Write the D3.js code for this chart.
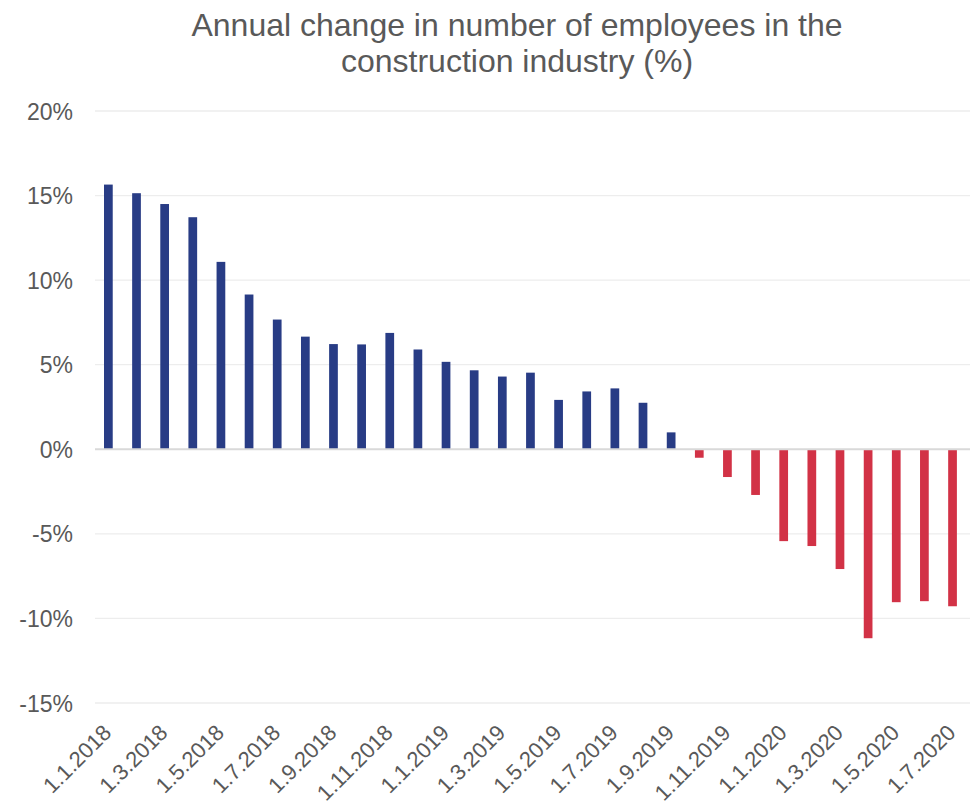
<!DOCTYPE html>
<html>
<head>
<meta charset="utf-8">
<script src="https://cdn.jsdelivr.net/npm/d3@7"></script>
<style>
  html, body { margin: 0; padding: 0; background: #fff; }
  svg { display: block; font-family: "Liberation Sans", Arial, sans-serif; }
</style>
</head>
<body>
<svg id="chart" width="972" height="806"></svg>
<script>
// Monthly observations, Jan 2018 – Jul 2020
const months = [
  "1.1.2018","1.2.2018","1.3.2018","1.4.2018","1.5.2018","1.6.2018","1.7.2018","1.8.2018",
  "1.9.2018","1.10.2018","1.11.2018","1.12.2018","1.1.2019","1.2.2019","1.3.2019","1.4.2019",
  "1.5.2019","1.6.2019","1.7.2019","1.8.2019","1.9.2019","1.10.2019","1.11.2019","1.12.2019",
  "1.1.2020","1.2.2020","1.3.2020","1.4.2020","1.5.2020","1.6.2020","1.7.2020"
];
// Year-on-year change in employees (%)
const changePct = [
  15.65, 15.14, 14.5, 13.72, 11.08, 9.15, 7.67, 6.66,
  6.22, 6.2, 6.88, 5.9, 5.17, 4.67, 4.3, 4.53,
  2.92, 3.42, 3.6, 2.75, 1.0, -0.5, -1.64, -2.7,
  -5.43, -5.72, -7.08, -11.17, -9.04, -8.98, -9.28
];
const yTicks = [-15, -10, -5, 0, 5, 10, 15, 20];
const titleLines = ["Annual change in number of employees in the", "construction industry (%)"];

const svg = d3.select("#chart");
const plotLeft = 94.3, plotRight = 966.6, plotTop = 111, plotBottom = 703;

const x = d3.scaleBand()
  .domain(months)
  .range([plotLeft, plotRight])
  .paddingInner(0.69)
  .paddingOuter(0.345);

const y = d3.scaleLinear().domain([-15, 20]).range([plotBottom, plotTop]);

// Title
svg.append("g").selectAll("text")
  .data(titleLines)
  .join("text")
  .attr("x", 517)
  .attr("y", (d, i) => 36 + i * 35.5)
  .attr("text-anchor", "middle")
  .attr("font-size", 32)
  .attr("fill", "#595959")
  .text(d => d);

// Horizontal gridlines
svg.append("g").selectAll("line")
  .data(yTicks.filter(t => t !== 0))
  .join("line")
  .attr("x1", 95).attr("x2", 970)
  .attr("y1", d => y(d)).attr("y2", d => y(d))
  .attr("stroke", "#ededed")
  .attr("stroke-width", 1.3);

// Y axis labels
const yAxis = d3.axisLeft(y).tickValues(yTicks).tickSize(0).tickPadding(0)
  .tickFormat(d => d + "%");
svg.append("g")
  .attr("transform", "translate(73,0)")
  .call(yAxis)
  .call(g => g.select(".domain").remove())
  .call(g => g.selectAll("text")
    .attr("font-size", 23)
    .attr("fill", "#595959")
    .attr("font-family", "Liberation Sans, Arial, sans-serif")
    .attr("dy", "0.35em"));

// Bars
svg.append("g").selectAll("rect")
  .data(months.map((m, i) => ({ m, v: changePct[i] })))
  .join("rect")
  .attr("x", d => x(d.m))
  .attr("width", x.bandwidth())
  .attr("y", d => y(Math.max(0, d.v)))
  .attr("height", d => Math.abs(y(d.v) - y(0)))
  .attr("fill", d => d.v >= 0 ? "#283c85" : "#d23246");

// Zero line
svg.append("line")
  .attr("x1", 95).attr("x2", 970)
  .attr("y1", y(0)).attr("y2", y(0))
  .attr("stroke", "#d9d9d9")
  .attr("stroke-width", 2);

// X axis labels, every second month
const xAxis = d3.axisBottom(x)
  .tickValues(months.filter((m, i) => i % 2 === 0))
  .tickSize(0).tickPadding(0);
svg.append("g")
  .attr("transform", "translate(0,729.7)")
  .call(xAxis)
  .call(g => g.select(".domain").remove())
  .call(g => g.selectAll("text")
    .attr("font-size", 22)
    .attr("fill", "#595959")
    .attr("font-family", "Liberation Sans, Arial, sans-serif")
    .attr("text-anchor", "end")
    .attr("y", 0)
    .attr("dy", "0.28em")
    .attr("transform", "rotate(-45)"));
</script>
</body>
</html>
